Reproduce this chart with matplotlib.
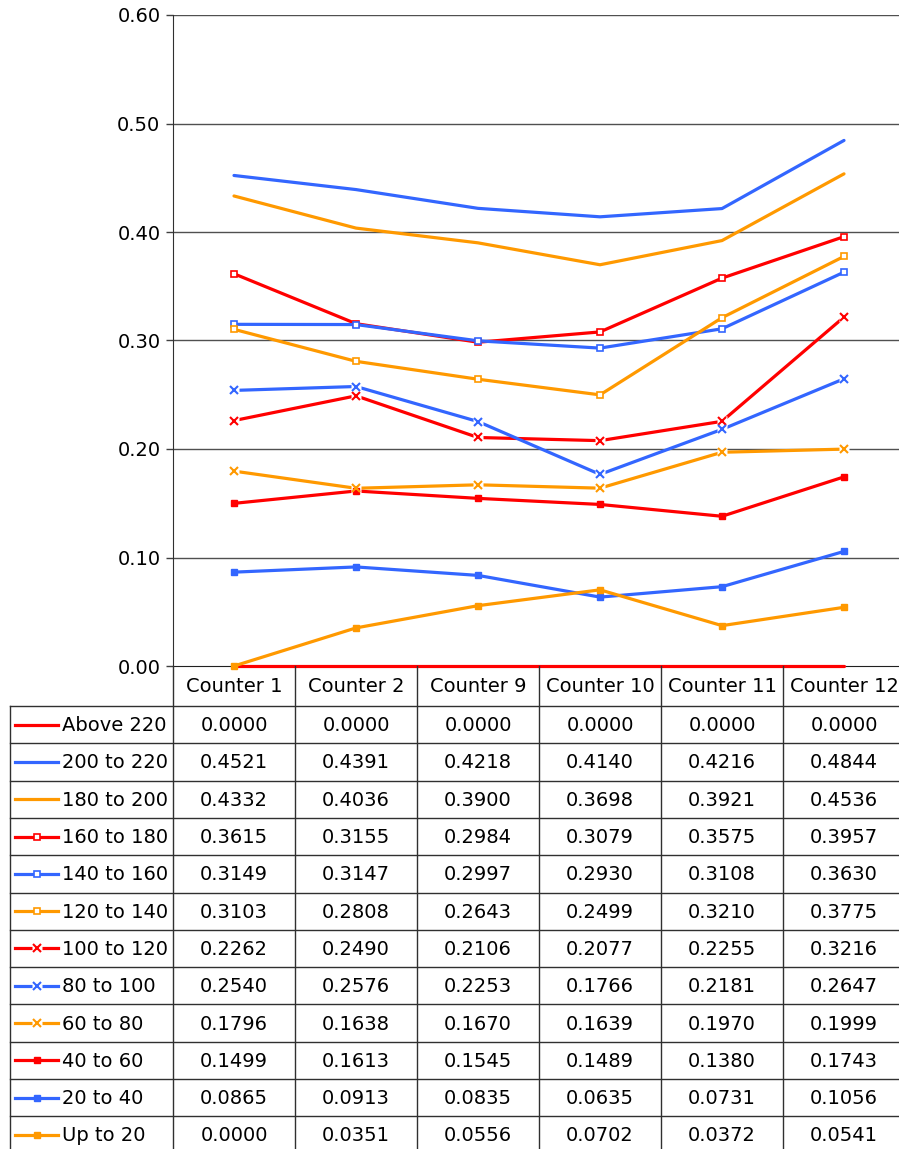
import numpy as np
import matplotlib
matplotlib.use("Agg")
import matplotlib.pyplot as plt

plt.rcParams['font.family'] = ['DejaVu Sans']

counters = ["Counter 1", "Counter 2", "Counter 9", "Counter 10", "Counter 11", "Counter 12"]
series = ["Above 220", "200 to 220", "180 to 200", "160 to 180", "140 to 160", "120 to 140",
          "100 to 120", "80 to 100", "60 to 80", "40 to 60", "20 to 40", "Up to 20"]

above_220  = [0.0000, 0.0000, 0.0000, 0.0000, 0.0000, 0.0000]
r200_220   = [0.4521, 0.4391, 0.4218, 0.4140, 0.4216, 0.4844]
r180_200   = [0.4332, 0.4036, 0.3900, 0.3698, 0.3921, 0.4536]
r160_180   = [0.3615, 0.3155, 0.2984, 0.3079, 0.3575, 0.3957]
r140_160   = [0.3149, 0.3147, 0.2997, 0.2930, 0.3108, 0.3630]
r120_140   = [0.3103, 0.2808, 0.2643, 0.2499, 0.3210, 0.3775]
r100_120   = [0.2262, 0.2490, 0.2106, 0.2077, 0.2255, 0.3216]
r80_100    = [0.2540, 0.2576, 0.2253, 0.1766, 0.2181, 0.2647]
r60_80     = [0.1796, 0.1638, 0.1670, 0.1639, 0.1970, 0.1999]
r40_60     = [0.1499, 0.1613, 0.1545, 0.1489, 0.1380, 0.1743]
r20_40     = [0.0865, 0.0913, 0.0835, 0.0635, 0.0731, 0.1056]
up_to_20   = [0.0000, 0.0351, 0.0556, 0.0702, 0.0372, 0.0541]

values = [above_220, r200_220, r180_200, r160_180, r140_160, r120_140,
          r100_120, r80_100, r60_80, r40_60, r20_40, up_to_20]

colors = ["#FF0000", "#3366FF", "#FF9900"]
# marker style per group of three series
markers = [None, "open", "x", "filled"]

W, H = 899, 1149
fig = plt.figure(figsize=(W / 100, H / 100), dpi=100)

# layout in pixels
x0 = 173
col_w = 122
y_top = 15
y_zero = 666
head_bot = 706
row_h = 37.3
fs = 14


def draw_marker(ax, x, y, kind, c, scale=1.0):
    if kind == "open":
        ax.plot(x, y, ls="none", marker="s", ms=4.5 * scale, mfc="white", mec=c, mew=1.2, zorder=6, clip_on=False)
    elif kind == "x":
        ax.plot(x, y, ls="none", marker="s", ms=7 * scale, mfc="white", mec="none", zorder=6, clip_on=False)
        ax.plot(x, y, ls="none", marker="x", ms=6 * scale, mec=c, mew=1.5, zorder=7, clip_on=False)
    elif kind == "filled":
        ax.plot(x, y, ls="none", marker="s", ms=4.5 * scale, mfc=c, mec=c, zorder=6, clip_on=False)


ax = fig.add_axes([x0 / W, 1 - y_zero / H, 6 * col_w / W, (y_zero - y_top) / H])
ax.set_xlim(-0.5, 5.5)
ax.set_ylim(0, 0.6)
ax.set_yticks(np.arange(0, 0.61, 0.1))
ax.set_yticklabels([f"{t:.2f}" for t in np.arange(0, 0.61, 0.1)], fontsize=fs)
ax.set_xticks([])
ax.tick_params(axis="y", direction="out", length=5, width=1, color="#404040", pad=4)
for t in np.arange(0.1, 0.61, 0.1):
    ax.axhline(t, color="#505050", lw=1, zorder=1)
for s in ["top", "right"]:
    ax.spines[s].set_visible(False)
ax.spines["left"].set_color("#303030")
ax.spines["bottom"].set_color("#202020")
ax.patch.set_alpha(0)

xs = np.arange(len(counters))
for i, (name, vals) in enumerate(zip(series, values)):
    c = colors[i % 3]
    kind = markers[i // 3]
    ax.plot(xs, vals, color=c, lw=2.3, zorder=5, solid_capstyle="round", clip_on=False)
    if kind:
        draw_marker(ax, xs, vals, kind, c)

# table overlay in pixel coordinates
tb = fig.add_axes([0, 0, 1, 1])
tb.set_xlim(0, W)
tb.set_ylim(H, 0)
tb.axis("off")
tb.patch.set_alpha(0)

lc = "#303030"
n_rows = len(series)
y_end = head_bot + n_rows * row_h
# vertical lines of value columns
for k in range(len(counters) + 1):
    xv = x0 + k * col_w
    tb.plot([xv, xv], [y_zero, y_end], color=lc, lw=1)
tb.plot([10, 10], [head_bot, y_end], color=lc, lw=1)
# horizontal lines
for r in range(n_rows + 1):
    yh = head_bot + r * row_h
    tb.plot([10, x0 + 6 * col_w], [yh, yh], color=lc, lw=1)

for k, name in enumerate(counters):
    tb.text(x0 + (k + 0.5) * col_w, (y_zero + head_bot) / 2 + 1, name, ha="center", va="center", fontsize=fs)

for i, (name, vals) in enumerate(zip(series, values)):
    yc = head_bot + (i + 0.5) * row_h
    c = colors[i % 3]
    kind = markers[i // 3]
    tb.plot([15, 58], [yc, yc], color=c, lw=2.3)
    if kind:
        draw_marker(tb, [36.5], [yc], kind, c)
    tb.text(62, yc + 1, name, ha="left", va="center", fontsize=fs)
    for k, v in enumerate(vals):
        tb.text(x0 + (k + 0.5) * col_w, yc + 1, f"{v:.4f}", ha="center", va="center", fontsize=fs)

fig.savefig("out.png", dpi=100)
